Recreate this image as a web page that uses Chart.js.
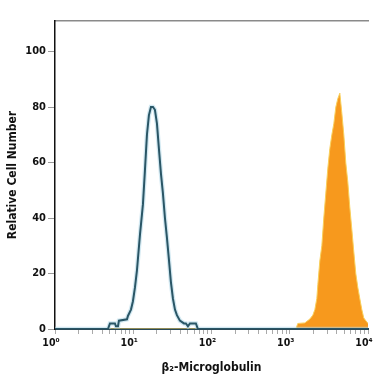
<!DOCTYPE html>
<html>
<head>
<meta charset="utf-8">
<script src="https://cdn.jsdelivr.net/npm/chart.js@4.4.1/dist/chart.umd.min.js"></script>
<style>
html,body{margin:0;padding:0;background:#fff;}
#wrap{width:375px;height:375px;position:relative;}
</style>
</head>
<body>
<div id="wrap"><canvas id="c" width="375" height="375"></canvas></div>
<script>
// x values are log10 of fluorescence intensity (decades)
const tickLabels = ['10\u2070','10\u00B9','10\u00B2','10\u00B3','10\u2074'];
const yTicks = [0,20,40,60,80,100];

const isotypeLog   = [0.000,0.677,0.702,0.766,0.779,0.805,0.817,0.920,0.932,0.971,0.996,1.022,1.047,1.086,1.124,1.149,1.175,1.200,1.226,1.252,1.277,1.303,1.328,1.354,1.379,1.405,1.430,1.456,1.481,1.507,1.533,1.558,1.596,1.648,1.673,1.699,1.724,1.801,1.826,4.000];
const isotypeCount = [0,    0,    2,    2,    1,    1,    3,    3.5,  4.7,  7,    10,   15,   21,   34,   45,   57,   70,   77,   80,   80,   79,   74,   65,   56,   49,   40,   33,   25,   17,   11,   7,    5,    3,    2,    2,    1,    2,    2,    0,    0];

const b2mLog   = [0.000,3.078,3.103,3.193,3.257,3.295,3.321,3.346,3.359,3.384,3.410,3.435,3.461,3.487,3.512,3.538,3.563,3.589,3.614,3.640,3.665,3.691,3.716,3.742,3.767,3.793,3.818,3.844,3.870,3.895,3.921,3.946,3.972,4.000];
const b2mCount = [0,    0,    2,    2.2,  3.6,  5,    7,    11,   16,   24.5, 30,   40,   49,   58,   65,   70,   74,   80,   83,   85,   78,   70,   60,   53,   44,   36,   28,   20,   15,   11,   7,    4,    3,    2];

const toPts = (xs, ys) => xs.map((x,i)=>({x:x, y:ys[i]}));

const FONT = "'DejaVu Sans Condensed','Liberation Sans',Arial,sans-serif";

new Chart(document.getElementById('c'), {
  type: 'line',
  data: {
    datasets: [
      {
        label: 'b2m',
        data: toPts(b2mLog, b2mCount),
        borderColor: '#f8cf5a',
        borderWidth: 1,
        backgroundColor: '#f7991d',
        fill: 'origin',
        pointRadius: 0,
        tension: 0,
        order: 3
      },
      {
        label: 'isotype halo',
        data: toPts(isotypeLog, isotypeCount),
        borderColor: 'rgba(175,215,232,0.55)',
        borderWidth: 4.5,
        fill: false,
        pointRadius: 0,
        tension: 0,
        order: 2
      },
      {
        label: 'isotype',
        data: toPts(isotypeLog, isotypeCount),
        borderColor: '#2a5666',
        borderWidth: 2,
        fill: false,
        pointRadius: 0,
        tension: 0,
        order: 1
      }
    ]
  },
  options: {
    responsive: false,
    animation: false,
    layout: { padding: { left: 0, right: 7, top: 21, bottom: 0 } },
    plugins: { legend: { display: false }, tooltip: { enabled: false } },
    scales: {
      x: {
        type: 'linear',
        position: 'bottom',
        min: 0, max: 4,
        afterBuildTicks: (scale) => {
          const t = [];
          for (let d = 0; d < 4; d++) for (let m = 1; m <= 9; m++) t.push({value: d + Math.log10(m)});
          t.push({value: 4});
          scale.ticks = t;
        },
        afterFit: (scale) => { scale.height = 46; scale.paddingLeft = 0; scale.paddingRight = 0; },
        border: { display: true, color: '#2a4a58', width: 2 },
        grid: { drawOnChartArea: false, drawTicks: true, tickLength: 5, color: '#aaaaaa', lineWidth: 1 },
        ticks: {
          autoSkip: false, maxRotation: 0, padding: 3, labelOffset: -4,
          color: '#111',
          font: { family: FONT, size: 10.5, weight: 'bold' },
          callback: (v) => Number.isInteger(v) ? tickLabels[v] : ''
        },
        title: {
          display: true, text: '\u03B2\u2082-Microglobulin',
          color: '#111', padding: { top: 3, bottom: 0 },
          font: { family: FONT, size: 12, weight: 'bold' }
        }
      },
      xTop: {
        type: 'linear',
        position: 'top',
        min: 0, max: 4,
        afterFit: (scale) => { scale.height = 0; scale.paddingLeft = 0; scale.paddingRight = 0; },
        border: { display: true, color: '#8a8a8a', width: 1.5 },
        grid: { drawOnChartArea: false, drawTicks: false },
        ticks: { display: false }
      },
      y: {
        min: 0, max: 111,
        afterBuildTicks: (scale) => { scale.ticks = yTicks.map(v => ({value: v})); },
        afterFit: (scale) => { scale.width = 55; },
        border: { display: true, color: '#111', width: 1.5 },
        grid: { drawOnChartArea: false, drawTicks: true, tickLength: 7, color: '#999', lineWidth: 1 },
        ticks: {
          padding: 2, color: '#111',
          font: { family: FONT, size: 11, weight: 'bold' }
        },
        title: {
          display: true, text: 'Relative Cell Number',
          color: '#111', padding: { top: 6, bottom: 2 },
          font: { family: FONT, size: 12, weight: 'bold' }
        }
      }
    }
  }
});
</script>
</body>
</html>
